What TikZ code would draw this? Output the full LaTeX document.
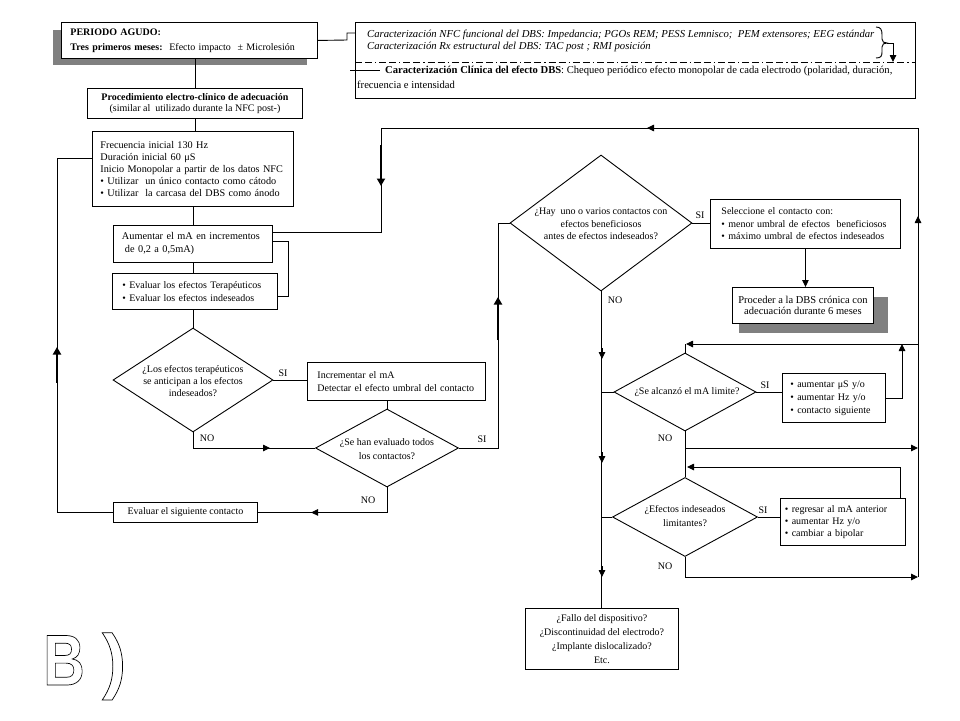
\documentclass[tikz,border=0pt]{standalone}
\usepackage{fontspec}
\usepackage{graphicx}
\setmainfont{Liberation Serif}
\newfontfamily\sansB{Liberation Sans}
\usetikzlibrary{arrows.meta,shapes.geometric}
\newcommand\outl[1]{\special{pdf:literal 1 Tr 0.7 w}#1\special{pdf:literal 0 Tr}}
\begin{document}
\begin{tikzpicture}[x=1pt,y=-1pt,
  every node/.style={inner sep=0pt, font=\fontsize{10}{12}\selectfont},
  box/.style={draw, line width=0.9pt, fill=white, anchor=north west},
  dia/.style={draw, diamond, line width=0.9pt, fill=white, inner sep=0pt},
  ln/.style={line width=0.9pt},
  arr/.style={line width=0.9pt, -{Triangle[length=7pt,width=6.5pt]}},
  bigarr/.style={line width=2.2pt, -{Triangle[length=7.5pt,width=8pt]}},
  lab/.style={font=\fontsize{10}{12}\selectfont},
  shade/.style={fill=black!50, draw=none},
  bigtxt/.style={font=\sansB\bfseries\fontsize{72}{72}\selectfont}
]
\useasboundingbox (0,0) rectangle (960,720);
\fill[white] (0,0) rectangle (960,720);

% ---------- top ----------
\fill[shade] (53,30) rectangle (307,65);
\node[box, minimum width=256, minimum height=36, inner xsep=9pt, text width=238, align=left,
      font=\fontsize{10}{15}\selectfont] (agudo) at (61,22)
  {\textbf{PERIODO AGUDO:}\\\textbf{Tres primeros meses:}\ \ Efecto impacto\ \ ±\ Microlesión};

\node[box, minimum width=560, minimum height=76] (carac) at (355,22) {};
\node[anchor=west, font=\itshape\fontsize{10.7}{12}\selectfont] (c1) at (367,35)
  {Caracterización NFC funcional del DBS: Impedancia; PGOs REM; PESS Lemnisco;\ \ PEM extensores; EEG estándar};
\node[anchor=west, font=\itshape\fontsize{10.7}{12}\selectfont] (c2) at (367,47)
  {Caracterización Rx estructural del DBS: TAC post ; RMI posición};
\draw[line width=0.9pt, dash pattern=on 7pt off 3pt on 7pt off 3pt on 1.2pt off 3pt]
  (carac.west |- 0,62) -- (carac.east |- 0,62);
\node[anchor=west, font=\fontsize{10.6}{12}\selectfont] (c3) at (385,71)
  {\textbf{Caracterización Clínica del efecto DBS}: Chequeo periódico efecto monopolar de cada electrodo (polaridad, duración,};
\node[anchor=west, font=\fontsize{10.6}{12}\selectfont] (c4) at (357,85) {frecuencia e intensidad};

% brace and arrow
\draw[ln] (876,27) .. controls (881,27) and (882,30) .. (882,35) -- (882,39)
  .. controls (882,42) and (884,43) .. (887,43)
  .. controls (884,43) and (882,44) .. (882,47) -- (882,52)
  .. controls (882,56) and (881,58) .. (876,58);
\coordinate (bt) at (887,43);
\coordinate (bd) at (893,62);
\draw[arr] (bt) -| (bd);

% connectors from PERIODO box
\coordinate (j1) at (347,40);
\draw[ln] (agudo.east) -- (j1) -- (j1 |- 0,33) -- (carac.west |- 0,33);
\coordinate (j2) at (350,70);
\coordinate (j3) at (380,70);
\draw[ln] (j2) -- (j3);

% ---------- left column ----------
\node[box, minimum width=215, minimum height=30, align=center,
      font=\fontsize{10}{10.5}\selectfont] (proc) at (87,88)
  {\textbf{Procedimiento electro-clínico de adecuación}\\(similar al\ \ utilizado durante la NFC post-)};

\node[box, minimum width=201, minimum height=75, inner xsep=8pt, text width=185, align=left,
      font=\fontsize{10.2}{12}\selectfont] (frec) at (92,131)
  {Frecuencia inicial 130 Hz\\Duración inicial 60 μS\\Inicio Monopolar a partir de los datos NFC\\• Utilizar\ \ un único contacto como cátodo\\• Utilizar\ \ la carcasa del DBS como ánodo};

\node[box, minimum width=159, minimum height=37, inner xsep=8.5pt, text width=142, align=left,
      font=\fontsize{10.3}{13}\selectfont] (aum) at (113,225)
  {Aumentar el mA en incrementos\\\hspace*{3pt}de 0,2 a 0,5mA)};

\node[box, minimum width=165, minimum height=36, inner xsep=10pt, text width=145, align=left,
      font=\fontsize{10}{13}\selectfont] (eva) at (112,273)
  {• Evaluar los efectos Terapéuticos\\• Evaluar los efectos indeseados};

\node[dia, minimum width=160, minimum height=104] (d1) at (193,380) {};
\node[align=center, font=\fontsize{10}{12}\selectfont] (t1) at (193,381)
  {¿Los efectos terapéuticos\\se anticipan a los efectos\\indeseados?};

\node[box, minimum width=178, minimum height=38, inner xsep=10pt, text width=158, align=left,
      font=\fontsize{10}{13}\selectfont] (inc) at (307,362)
  {Incrementar el mA\\Detectar el efecto umbral del contacto};

\node[dia, minimum width=143, minimum height=78] (d2) at (387,448) {};
\node[align=center, font=\fontsize{10}{14}\selectfont] (t2) at (387,449)
  {¿Se han evaluado todos\\los contactos?};

\node[box, minimum width=144, minimum height=20, align=center] (evs) at (113,502)
  {Evaluar el siguiente contacto};

% ---------- right part ----------
\node[dia, minimum width=182, minimum height=136] (d3) at (601,223) {};
\node[align=center, font=\fontsize{10}{12.5}\selectfont] (t3) at (601,224)
  {¿Hay\ \ uno o varios contactos con\\efectos beneficiosos\\antes de efectos indeseados?};

\node[box, minimum width=190, minimum height=49, inner xsep=11pt, text width=168, align=left,
      font=\fontsize{10}{12.5}\selectfont] (sel) at (710,199)
  {Seleccione el contacto con:\\• menor umbral de efectos\ \ beneficiosos\\• máximo umbral de efectos indeseados};

\fill[shade] (739,297) rectangle (888,333);
\node[box, minimum width=141, minimum height=36, align=center,
      font=\fontsize{10.5}{11.5}\selectfont] (prc) at (732,287)
  {Proceder a la DBS crónica con\\adecuación durante 6 meses};

\node[dia, minimum width=142, minimum height=78] (d4) at (685,392) {};
\node[font=\fontsize{10}{12}\selectfont] (t4) at (687,392) {¿Se alcanzó el mA limite?};

\node[box, minimum width=103, minimum height=49, inner xsep=8pt, text width=87, align=left,
      font=\fontsize{10}{13}\selectfont] (aub) at (782,373)
  {• aumentar μS y/o\\• aumentar Hz y/o\\• contacto siguiente};

\node[dia, minimum width=145, minimum height=79] (d5) at (685,517) {};
\node[align=center, font=\fontsize{10}{14}\selectfont] (t5) at (685,516)
  {¿Efectos indeseados\\limitantes?};

\node[box, minimum width=125, minimum height=47, inner xsep=4.5pt, text width=116, align=left,
      font=\fontsize{10}{12}\selectfont] (reg) at (780,498)
  {• regresar al mA anterior\\• aumentar Hz y/o\\• cambiar a bipolar};

\node[box, minimum width=153, minimum height=61, align=center,
      font=\fontsize{10}{14}\selectfont] (fal) at (525,608)
  {¿Fallo del dispositivo?\\¿Discontinuidad del electrodo?\\¿Implante dislocalizado?\\Etc.};

% ---------- labels ----------
\node[lab] (si1) at (283,373) {SI};
\node[lab] (no1) at (207,438) {NO};
\node[lab] (si2) at (482,439) {SI};
\node[lab] (no2) at (368,500) {NO};
\node[lab] (si3) at (700,215) {SI};
\node[lab] (no3) at (615,300) {NO};
\node[lab] (si4) at (765,385) {SI};
\node[lab] (no4) at (665,438) {NO};
\node[lab] (si5) at (763,510) {SI};
\node[lab] (no5) at (665,566) {NO};

% ---------- connectors: left column ----------
\draw[ln] (proc.north |- agudo.south) -- (proc.north);
\draw[ln] (proc.south) -- (proc.south |- frec.north);
\draw[ln] (frec.south) -- (frec.south |- aum.north);
\draw[ln] (aum.south) -- (aum.south |- eva.north);
\draw[ln] (d1.north |- eva.south) -- (d1.north);
\draw[ln] (d1.east) -- (d1.east -| inc.west);
\draw[ln] (d2.north |- inc.south) -- (d2.north);
\draw[ln] (d1.south) |- (d2.west);
\draw[arr] (d1.south |- d2.west) -- ++(77,0);

\coordinate (r1) at (498,0);
\draw[ln] (d2.east) -| (r1 |- d3.west) -- (d3.west);
\coordinate (ta1) at (498,340);
\coordinate (ta2) at (498,297);
\draw[bigarr] (ta1) -- (ta2);

\draw[ln] (d2.south) |- (evs.east);
\draw[arr] (d2.south |- evs.east) -- ++(-76,0);

\coordinate (L1) at (57,158);
\draw[ln] (evs.west) -| (L1) -- (L1 -| frec.west);
\coordinate (tb1) at (57,383);
\coordinate (tb2) at (57,347);
\draw[bigarr] (tb1) -- (tb2);

\coordinate (e1) at (288,296);
\coordinate (e2) at (288,241);
\draw[ln] (eva.east |- e1) -- (e1) -- (e2) -- (aum.east |- e2);

% ---------- big loop ----------
\coordinate (R0) at (381,128);
\coordinate (R1) at (918,128);
\coordinate (R2) at (918,577);
\draw[ln] (aum.east |- 0,232) -| (R0) -- (R1) -- (R2);
\coordinate (tc1) at (381,145);
\coordinate (tc2) at (381,186);
\draw[bigarr] (tc1) -- (tc2);
\coordinate (ma1) at (660,128);
\coordinate (ma2) at (647,128);
\draw[arr] (ma1) -- (ma2);
\coordinate (mb1) at (918,232);
\coordinate (mb2) at (918,216);
\draw[arr] (mb1) -- (mb2);

% ---------- right column ----------
\draw[ln] (d3.east) -- (d3.east -| sel.west);
\draw[arr] (sel.south) -- (sel.south |- prc.north);
\draw[ln] (d3.south) -- (d3.south |- fal.north);
\coordinate (mc1) at (602,348);
\coordinate (mc2) at (602,359);
\draw[arr] (mc1) -- (mc2);
\coordinate (md1) at (602,452);
\coordinate (md2) at (602,463);
\draw[arr] (md1) -- (md2);
\coordinate (me1) at (602,566);
\coordinate (me2) at (602,577);
\draw[arr] (me1) -- (me2);

\draw[ln] (d3.south |- d4.west) -- (d4.west);
\draw[ln] (d4.east) -- (d4.east -| aub.west);
\coordinate (u1) at (902,344);
\draw[arr] (aub.east) -| (u1);
\coordinate (u2) at (686,344);
\draw[arr] (R1 |- u1) -- (u2);
\draw[ln] (d4.north) -- (d4.north |- u1);

\coordinate (n1) at (685,448);
\draw[arr] (d4.south) |- (R1 |- n1);
\draw[ln] (n1) -- (d5.north);

\coordinate (w1) at (900,467);
\coordinate (w2) at (687,467);
\draw[arr] (w1 |- reg.north) -- (w1) -- (w2);

\draw[ln] (d3.south |- d5.west) -- (d5.west);
\draw[ln] (d5.east) -- (d5.east -| reg.west);
\draw[arr] (d5.south) |- (R2);

% ---------- B) ----------
\node[bigtxt, anchor=base west] (bB) at (43,685) {\outl{\scalebox{0.8}[1]{B}}};
\node[bigtxt, anchor=base west] (bP) at (102,685) {\outl{)}};
\end{tikzpicture}
\end{document}
